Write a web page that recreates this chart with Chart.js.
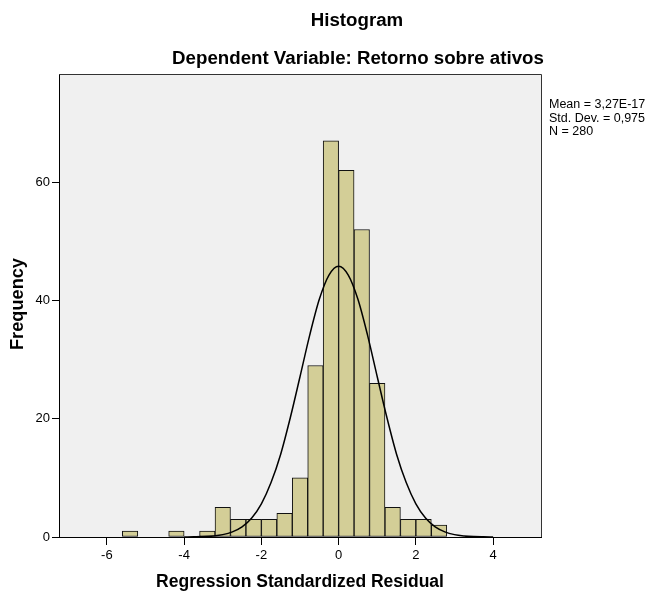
<!DOCTYPE html>
<html>
<head>
<meta charset="utf-8">
<script src="https://cdn.jsdelivr.net/npm/chart.js@4.4.1/dist/chart.umd.min.js"></script>
<style>
  html, body { margin: 0; padding: 0; background: #fff; }
  #wrap { width: 651px; height: 592px; position: relative; }
</style>
</head>
<body>
<div id="wrap"><canvas id="hist" width="651" height="592"></canvas></div>
<script>
// 直方图数据
const binCenters = [-5.4, -4.2, -3.4, -3.0, -2.6, -2.2, -1.8, -1.4, -1.0, -0.6, -0.2, 0.2, 0.6, 1.0, 1.4, 1.8, 2.2, 2.6];
const binCounts  = [1, 1, 1, 5, 3, 3, 3, 4, 10, 29, 67, 62, 52, 26, 5, 3, 3, 2];

// 正态曲线（从图中读出的点）
const curveX = [-4, -3.75, -3.5, -3.25, -3, -2.75, -2.5, -2.25, -2, -1.75, -1.5, -1.25, -1, -0.75, -0.5, -0.25, 0,
                0.25, 0.5, 0.75, 1, 1.25, 1.5, 1.75, 2, 2.25, 2.5, 2.75, 3, 3.25, 3.5, 3.75, 4];
const curveY = [0.01, 0.03, 0.07, 0.18, 0.4, 0.86, 1.7, 3.2, 5.6, 9.2, 14.0, 20.2, 27.1, 34.1, 40.2, 44.3, 45.8,
                44.3, 40.2, 34.1, 27.1, 20.2, 14.0, 9.2, 5.6, 3.2, 1.7, 0.86, 0.4, 0.18, 0.07, 0.03, 0.01];

const xTicks = [-6, -4, -2, 0, 2, 4];
const yTicks = [0, 20, 40, 60];

const titleText = 'Histogram';
const subtitleText = 'Dependent Variable: Retorno sobre ativos';
const xTitle = 'Regression Standardized Residual';
const yTitle = 'Frequency';
const statsLines = ['Mean = 3,27E-17', 'Std. Dev. = 0,975', 'N = 280'];

const FONT = "'Liberation Sans', Arial, sans-serif";

// 绘图区背景 + 上/右边框
const frame = {
  id: 'frame',
  beforeDraw(chart) {
    const { ctx, chartArea: a } = chart;
    ctx.save();
    ctx.fillStyle = '#F0F0F0';
    ctx.fillRect(a.left, a.top, a.right - a.left, a.bottom - a.top);
    ctx.restore();
  },
  afterDatasetsDraw(chart) {
    const { ctx, chartArea: a } = chart;
    ctx.save();
    ctx.strokeStyle = '#333';
    ctx.lineWidth = 1;
    ctx.beginPath();
    ctx.moveTo(a.left, a.top + 0.5);
    ctx.lineTo(a.right + 0.5, a.top + 0.5);
    ctx.lineTo(a.right + 0.5, a.bottom);
    ctx.stroke();
    ctx.restore();
  }
};

// 标题、轴标题和统计文字
const texts = {
  id: 'texts',
  afterDraw(chart) {
    const { ctx, chartArea: a } = chart;
    ctx.save();
    ctx.fillStyle = '#000';
    ctx.textAlign = 'center';
    ctx.textBaseline = 'middle';
    ctx.font = 'bold 18.7px ' + FONT;
    ctx.fillText(titleText, 357, 21);
    ctx.fillText(subtitleText, 358, 59);
    ctx.font = 'bold 17.5px ' + FONT;
    ctx.fillText(xTitle, (a.left + a.right) / 2, 582);
    ctx.font = 'bold 18.2px ' + FONT;
    ctx.translate(18, 304);
    ctx.rotate(-Math.PI / 2);
    ctx.fillText(yTitle, 0, 0);
    ctx.restore();

    ctx.save();
    ctx.fillStyle = '#000';
    ctx.font = '12.5px ' + FONT;
    ctx.textAlign = 'left';
    ctx.textBaseline = 'middle';
    statsLines.forEach((s, i) => ctx.fillText(s, 549, 105 + i * 13.5));
    ctx.restore();
  }
};

new Chart(document.getElementById('hist'), {
  type: 'bar',
  data: {
    datasets: [
      {
        type: 'line',
        data: curveX.map((x, i) => ({ x, y: curveY[i] })),
        borderColor: '#000',
        borderWidth: 1.5,
        pointRadius: 0,
        fill: false,
        cubicInterpolationMode: 'monotone',
        order: 0
      },
      {
        data: binCenters.map((x, i) => ({ x, y: binCounts[i] })),
        backgroundColor: '#D3CE97',
        borderColor: '#111',
        borderWidth: 1,
        borderSkipped: false,
        barPercentage: 1,
        categoryPercentage: 1,
        order: 1
      }
    ]
  },
  options: {
    responsive: false,
    animation: false,
    layout: { padding: { left: 0, top: 74, right: 110, bottom: 0 } },
    plugins: { legend: { display: false }, tooltip: { enabled: false } },
    scales: {
      x: {
        type: 'linear',
        min: -7.24,
        max: 5.24,
        offset: false,
        afterBuildTicks: s => { s.ticks = xTicks.map(v => ({ value: v })); },
        afterFit: s => { s.height = 55; },
        grid: { offset: false, drawOnChartArea: false, drawTicks: true, tickLength: 8, color: '#000', tickColor: '#000' },
        border: { display: true, color: '#000', width: 1 },
        ticks: { color: '#000', padding: 3, maxRotation: 0, font: { family: FONT, size: 13 } }
      },
      y: {
        min: 0,
        max: 78.3,
        afterBuildTicks: s => { s.ticks = yTicks.map(v => ({ value: v })); },
        afterFit: s => { s.width = 59; },
        grid: { drawOnChartArea: false, drawTicks: true, tickLength: 7, color: '#000', tickColor: '#000' },
        border: { display: true, color: '#000', width: 1 },
        ticks: { color: '#000', padding: 2, font: { family: FONT, size: 13 } }
      }
    }
  },
  plugins: [frame, texts]
});
</script>
</body>
</html>
